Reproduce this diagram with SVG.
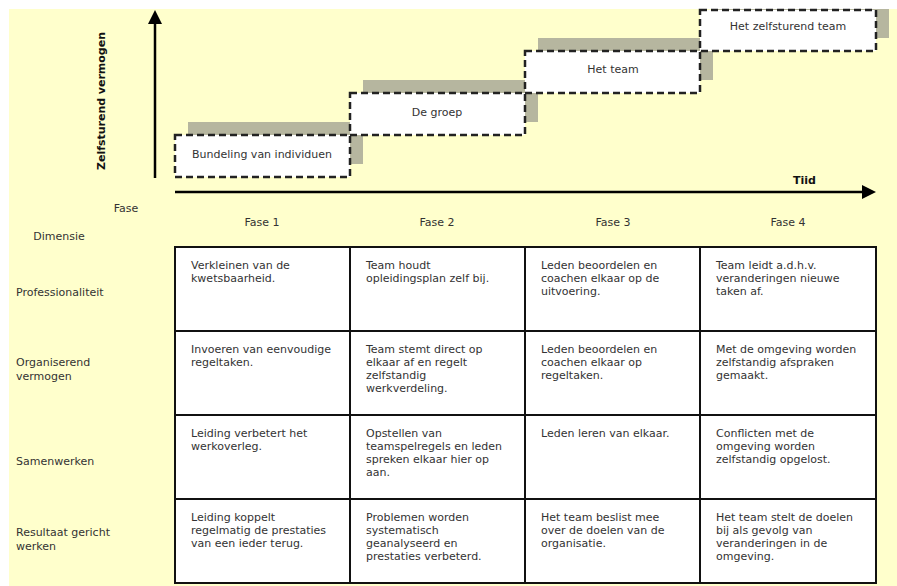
<svg xmlns="http://www.w3.org/2000/svg" width="897" height="586" viewBox="0 0 897 586">
<defs>
<style>
text{font-family:"DejaVu Sans",Verdana,"Liberation Sans",sans-serif;font-size:11px;fill:#333;}
.b{font-weight:bold;fill:#111;}
.m{text-anchor:middle;}
.shadow{fill:#b6b69f;}
.box{fill:#fff;stroke:#222;stroke-width:2.5;stroke-dasharray:7 4;}
.grid{fill:#fff;stroke:#111;stroke-width:2;}
.ln{stroke:#111;stroke-width:2;}
.axis{stroke:#000;stroke-width:2.5;fill:none;}
</style>
</defs>
<rect x="9" y="9" width="888" height="577" fill="#ffffcc"/>

<g id="axes">
<line class="axis" x1="155" y1="20" x2="155" y2="178"/>
<polygon points="155,10 148,24 162,24" fill="#000"/>
<line class="axis" x1="175" y1="192" x2="864" y2="192"/>
<polygon points="876,192 862,185 862,199" fill="#000"/>
<text class="b m" transform="translate(105,101) rotate(-90)" textLength="138">Zelfsturend vermogen</text>
<text class="b" x="793" y="184">Tiid</text>
</g>

<g id="connectors"></g>

<g id="stap1">
<rect class="shadow" x="188" y="122" width="175" height="42"/>
<rect class="box" x="175" y="135" width="175" height="42"/>
<text class="m" x="262" y="158">Bundeling van individuen</text>
</g>
<g id="stap2">
<rect class="shadow" x="363" y="80" width="175" height="42"/>
<rect class="box" x="350" y="93" width="175" height="42"/>
<text class="m" x="437" y="116">De groep</text>
</g>
<g id="stap3">
<rect class="shadow" x="538" y="38" width="175" height="42"/>
<rect class="box" x="525" y="51" width="175" height="42"/>
<text class="m" x="613" y="73">Het team</text>
</g>
<g id="stap4">
<rect class="shadow" x="713" y="9" width="176" height="29"/>
<rect class="box" x="700" y="10" width="176" height="41"/>
<text class="m" x="788" y="30">Het zelfsturend team</text>
</g>

<g id="headers">
<text class="m" x="126" y="212">Fase</text>
<text class="m" x="59" y="240">Dimensie</text>
<text class="m" x="262" y="226">Fase 1</text>
<text class="m" x="437" y="226">Fase 2</text>
<text class="m" x="613" y="226">Fase 3</text>
<text class="m" x="788" y="226">Fase 4</text>
<text x="16" y="296">Professionaliteit</text>
<text x="16" y="366">Organiserend</text>
<text x="16" y="380">vermogen</text>
<text x="16" y="465">Samenwerken</text>
<text x="16" y="536">Resultaat gericht</text>
<text x="16" y="550">werken</text>
</g>

<g id="tabel">
<rect class="grid" x="175" y="247" width="701" height="336"/>
<line class="ln" x1="350" y1="247" x2="350" y2="583"/>
<line class="ln" x1="525" y1="247" x2="525" y2="583"/>
<line class="ln" x1="700" y1="247" x2="700" y2="583"/>
<line class="ln" x1="175" y1="331" x2="876" y2="331"/>
<line class="ln" x1="175" y1="415" x2="876" y2="415"/>
<line class="ln" x1="175" y1="499" x2="876" y2="499"/>
</g>

<g id="rij1">
<text x="191" y="269">Verkleinen van de<tspan x="191" dy="13">kwetsbaarheid.</tspan></text>
<text x="366" y="269">Team houdt<tspan x="366" dy="13">opleidingsplan zelf bij.</tspan></text>
<text x="541" y="269">Leden beoordelen en<tspan x="541" dy="13">coachen elkaar op de</tspan><tspan x="541" dy="13">uitvoering.</tspan></text>
<text x="716" y="269">Team leidt a.d.h.v.<tspan x="716" dy="13">veranderingen nieuwe</tspan><tspan x="716" dy="13">taken af.</tspan></text>
</g>
<g id="rij2">
<text x="191" y="353">Invoeren van eenvoudige<tspan x="191" dy="13">regeltaken.</tspan></text>
<text x="366" y="353">Team stemt direct op<tspan x="366" dy="13">elkaar af en regelt</tspan><tspan x="366" dy="13">zelfstandig</tspan><tspan x="366" dy="13">werkverdeling.</tspan></text>
<text x="541" y="353">Leden beoordelen en<tspan x="541" dy="13">coachen elkaar op</tspan><tspan x="541" dy="13">regeltaken.</tspan></text>
<text x="716" y="353">Met de omgeving worden<tspan x="716" dy="13">zelfstandig afspraken</tspan><tspan x="716" dy="13">gemaakt.</tspan></text>
</g>
<g id="rij3">
<text x="191" y="437">Leiding verbetert het<tspan x="191" dy="13">werkoverleg.</tspan></text>
<text x="366" y="437">Opstellen van<tspan x="366" dy="13">teamspelregels en leden</tspan><tspan x="366" dy="13">spreken elkaar hier op</tspan><tspan x="366" dy="13">aan.</tspan></text>
<text x="541" y="437">Leden leren van elkaar.</text>
<text x="716" y="437">Conflicten met de<tspan x="716" dy="13">omgeving worden</tspan><tspan x="716" dy="13">zelfstandig opgelost.</tspan></text>
</g>
<g id="rij4">
<text x="191" y="521">Leiding koppelt<tspan x="191" dy="13">regelmatig de prestaties</tspan><tspan x="191" dy="13">van een ieder terug.</tspan></text>
<text x="366" y="521">Problemen worden<tspan x="366" dy="13">systematisch</tspan><tspan x="366" dy="13">geanalyseerd en</tspan><tspan x="366" dy="13">prestaties verbeterd.</tspan></text>
<text x="541" y="521">Het team beslist mee<tspan x="541" dy="13">over de doelen van de</tspan><tspan x="541" dy="13">organisatie.</tspan></text>
<text x="716" y="521">Het team stelt de doelen<tspan x="716" dy="13">bij als gevolg van</tspan><tspan x="716" dy="13">veranderingen in de</tspan><tspan x="716" dy="13">omgeving.</tspan></text>
</g>
</svg>
